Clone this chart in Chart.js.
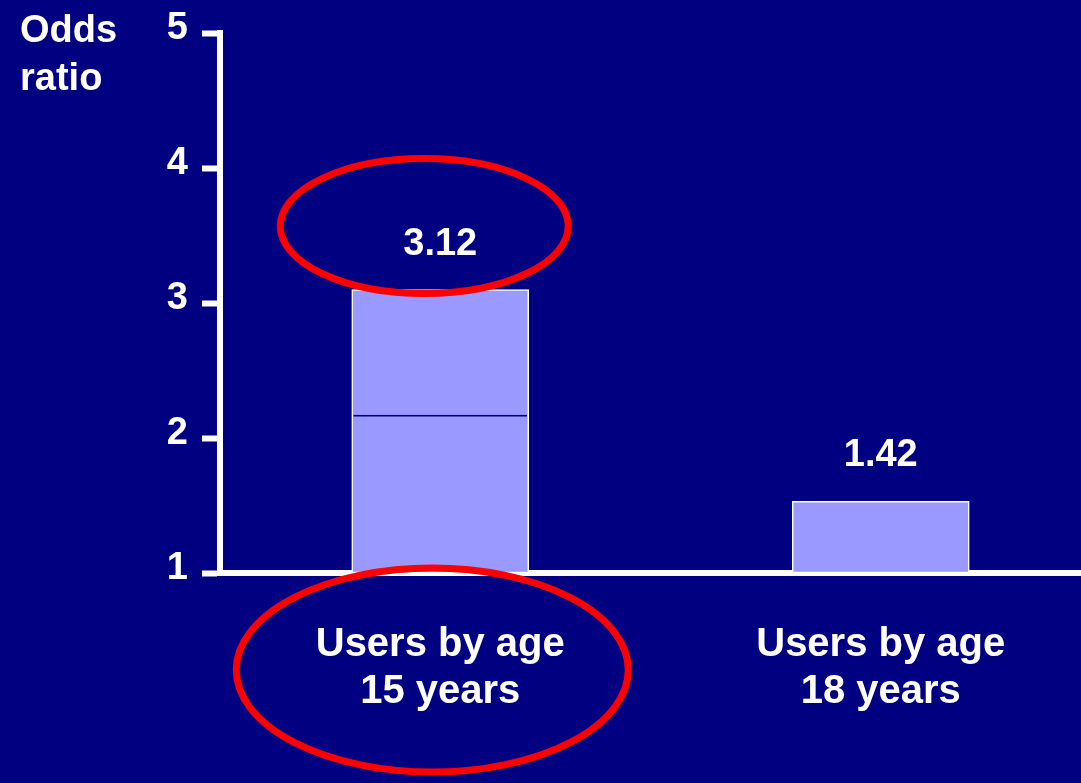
<!DOCTYPE html>
<html>
<head>
<meta charset="utf-8">
<title>Odds ratio</title>
<script src="https://cdn.jsdelivr.net/npm/chart.js@4.4.1/dist/chart.umd.min.js"></script>
<style>
    html, body { margin: 0; padding: 0; background: #000080; overflow: hidden; }
    #wrap { width: 1101px; height: 783px; }
</style>
</head>
<body>
<div id="wrap"><canvas id="oddsChart" width="1101" height="783"></canvas></div>
<script>
// values
const categories = [['Users by age', '15 years'], ['Users by age', '18 years']];
const barTops = [3.1, 1.53];            // height the bars are drawn to
const valueLabels = ['3.12', '1.42'];   // numbers printed above the bars
const dividerValues = [2.17, null];     // thin dark line inside the first bar
const yTicks = [1, 2, 3, 4, 5];
const baseline = 1;
const yTitleLines = ['Odds', 'ratio'];

const FONT = "'Liberation Sans', Arial, Helvetica, sans-serif";
const NAVY = '#000080';

function drawEllipse(ctx, x, y, rx, ry) {
    ctx.beginPath();
    ctx.ellipse(x, y, rx, ry, 0, 0, Math.PI * 2);
    ctx.stroke();
}

const slidePlugin = {
    id: 'slide',
    beforeDraw: function(chart) {
        var ctx = chart.ctx;
        ctx.save();
        ctx.fillStyle = NAVY;
        ctx.fillRect(0, 0, chart.width, chart.height);
        ctx.restore();
    },
    afterDraw: function(chart) {
        var ctx = chart.ctx;
        var xs = chart.scales.x, ys = chart.scales.y;
        var bars = chart.getDatasetMeta(0).data;
        ctx.save();

        // axis title top left
        ctx.fillStyle = '#ffffff';
        ctx.font = 'bold 38px ' + FONT;
        ctx.textAlign = 'left';
        ctx.textBaseline = 'alphabetic';
        ctx.fillText(yTitleLines[0], 20, 42);
        ctx.fillText(yTitleLines[1], 20, 90);

        // value labels above bars
        ctx.textAlign = 'center';
        bars.forEach(function(bar, i) {
            ctx.fillText(valueLabels[i], bar.x, bar.y - 35);
        });

        // red ellipses (someone circled the 15 years result)
        ctx.strokeStyle = '#ff0000';
        ctx.lineWidth = 7;
        var x0 = xs.getPixelForValue(0);
        drawEllipse(ctx, x0 - 16, ys.getPixelForValue(3.57), 144, 67.5);
        drawEllipse(ctx, x0 - 8, chart.chartArea.bottom + 97, 196, 102);

        ctx.restore();
    }
};

var ctx = document.getElementById('oddsChart');
var chart = new Chart(ctx, {
    type: 'bar',
    data: {
        labels: categories,
        datasets: [
            {
                data: barTops.map(function(v) { return [baseline, v]; }),
                backgroundColor: '#9999ff',
                borderColor: '#ffffff',
                borderWidth: 1.5,
                borderSkipped: false,
                barThickness: 177,
                grouped: false,
                order: 2
            },
            {
                data: dividerValues.map(function(v) { return v == null ? null : [baseline, v]; }),
                backgroundColor: 'rgba(0,0,0,0)',
                borderColor: NAVY,
                borderWidth: { top: 1, left: 0, right: 0, bottom: 0 },
                borderSkipped: false,
                barThickness: 174,
                grouped: false,
                order: 1
            }
        ]
    },
    options: {
        responsive: false,
        animation: false,
        events: [],
        layout: { padding: { top: 33, left: 0, right: 0, bottom: 0 } },
        plugins: {
            legend: { display: false },
            tooltip: { enabled: false }
        },
        scales: {
            x: {
                z: 1,
                grid: { display: false, drawTicks: false },
                border: { color: '#ffffff', width: 6 },
                ticks: {
                    color: '#ffffff',
                    font: { family: FONT, size: 40, weight: 'bold', lineHeight: 1.18 },
                    padding: 48,
                    maxRotation: 0
                },
                afterFit: function(scale) { scale.height = 210; }
            },
            y: {
                min: yTicks[0],
                max: yTicks[yTicks.length - 1],
                afterBuildTicks: function(scale) {
                    scale.ticks = yTicks.map(function(v) { return { value: v }; });
                },
                ticks: {
                    color: '#ffffff',
                    font: { family: FONT, size: 38, weight: 'bold' },
                    padding: 14,
                    labelOffset: -4
                },
                grid: {
                    drawOnChartArea: false,
                    color: '#ffffff',
                    tickColor: '#ffffff',
                    tickLength: 18,
                    tickWidth: 6
                },
                border: { color: '#ffffff', width: 6 },
                afterFit: function(scale) {
                    scale.width = 220;
                    scale.paddingTop = 0;
                    scale.paddingBottom = 0;
                }
            }
        }
    },
    plugins: [slidePlugin]
});
</script>
</body>
</html>
